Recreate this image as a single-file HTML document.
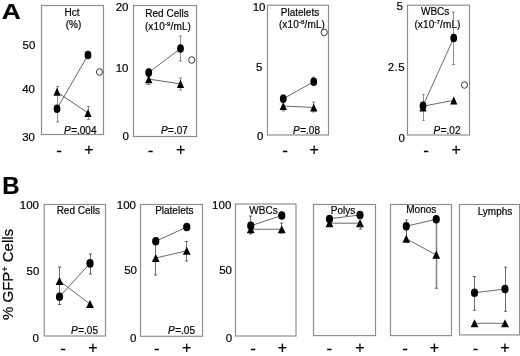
<!DOCTYPE html>
<html><head><meta charset="utf-8"><title>Figure</title>
<style>
html,body{margin:0;padding:0;background:#fff;}
body{width:520px;height:356px;overflow:hidden;}
svg{display:block;font-family:"Liberation Sans", sans-serif;fill:#000;}
text{stroke:#000;stroke-width:0.2px;}
</style></head>
<body>
<svg width="520" height="356" viewBox="0 0 520 356" font-family='"Liberation Sans", sans-serif'>
<rect x="0" y="0" width="520" height="356" fill="#fff" stroke="none"/>
<g opacity="0.999">
<text transform="translate(1.7,19) scale(1.1,0.95)" font-size="24" font-weight="bold" stroke-width="0.5">A</text>
<rect x="41.5" y="5.5" width="62.0" height="129.0" fill="none" stroke="#8c8c8c" stroke-width="1.15"/>
<text x="72.1" y="15.5" font-size="10" text-anchor="middle" font-weight="normal" font-style="normal" >Hct</text>
<text x="73.5" y="28" font-size="10" text-anchor="middle" font-weight="normal" font-style="normal" >(%)</text>
<text x="35.4" y="49.1" font-size="11.5" text-anchor="end" font-weight="normal" font-style="normal" >50</text>
<text x="35" y="92.7" font-size="11.5" text-anchor="end" font-weight="normal" font-style="normal" >40</text>
<text x="35" y="140.7" font-size="11.5" text-anchor="end" font-weight="normal" font-style="normal" >30</text>
<line x1="57.5" y1="86.5" x2="57.5" y2="122" stroke="#6a6a6a" stroke-width="0.75"/>
<line x1="55.9" y1="86.5" x2="59.1" y2="86.5" stroke="#6a6a6a" stroke-width="0.75"/>
<line x1="55.9" y1="122" x2="59.1" y2="122" stroke="#6a6a6a" stroke-width="0.75"/>
<line x1="88.5" y1="106.5" x2="88.5" y2="119.5" stroke="#6a6a6a" stroke-width="0.75"/>
<line x1="86.9" y1="106.5" x2="90.1" y2="106.5" stroke="#6a6a6a" stroke-width="0.75"/>
<line x1="86.9" y1="119.5" x2="90.1" y2="119.5" stroke="#6a6a6a" stroke-width="0.75"/>
<line x1="57" y1="108.75" x2="88" y2="55" stroke="#444" stroke-width="0.8"/>
<line x1="57" y1="92" x2="88" y2="113" stroke="#444" stroke-width="0.8"/>
<ellipse cx="57" cy="108.75" rx="3.4" ry="4.3" fill="#000"/>
<ellipse cx="88" cy="55" rx="3.4" ry="4.3" fill="#000"/>
<polygon points="57,87.60000000000001 60.6,95.8 53.4,95.8" fill="#000"/>
<polygon points="88,108.9 91.6,117.1 84.4,117.1" fill="#000"/>
<ellipse cx="99.5" cy="72" rx="3.05" ry="3.3" fill="#fff" stroke="#222" stroke-width="0.9"/>
<text x="96.5" y="134.1" font-size="10" text-anchor="end"><tspan font-style="italic">P</tspan><tspan dx="0.5">=.004</tspan></text>
<text x="59" y="156.0" font-size="17" text-anchor="middle" font-weight="normal" font-style="normal" >-</text>
<text x="89" y="155.0" font-size="16" text-anchor="middle" font-weight="normal" font-style="normal" stroke-width="0">+</text>
<rect x="133.5" y="5.5" width="63.0" height="131.0" fill="none" stroke="#8c8c8c" stroke-width="1.15"/>
<text x="128.5" y="11" font-size="11.5" text-anchor="end" font-weight="normal" font-style="normal" >20</text>
<text x="128.5" y="72" font-size="11.5" text-anchor="end" font-weight="normal" font-style="normal" >10</text>
<text x="129" y="139.5" font-size="11.5" text-anchor="end" font-weight="normal" font-style="normal" >0</text>
<text x="167" y="16.7" font-size="10" text-anchor="middle" font-weight="normal" font-style="normal" >Red Cells</text>
<text x="168" y="29.6" font-size="10" text-anchor="middle" letter-spacing="0.12">(x10<tspan font-size="6.2" dy="-4">-9</tspan><tspan dy="4">/mL)</tspan></text>
<line x1="180.5" y1="36" x2="180.5" y2="61" stroke="#6a6a6a" stroke-width="0.75"/>
<line x1="178.9" y1="36" x2="182.1" y2="36" stroke="#6a6a6a" stroke-width="0.75"/>
<line x1="178.9" y1="61" x2="182.1" y2="61" stroke="#6a6a6a" stroke-width="0.75"/>
<line x1="148.5" y1="69" x2="148.5" y2="77" stroke="#6a6a6a" stroke-width="0.75"/>
<line x1="146.9" y1="69" x2="150.1" y2="69" stroke="#6a6a6a" stroke-width="0.75"/>
<line x1="146.9" y1="77" x2="150.1" y2="77" stroke="#6a6a6a" stroke-width="0.75"/>
<line x1="148.5" y1="76" x2="148.5" y2="84.6" stroke="#6a6a6a" stroke-width="0.75"/>
<line x1="146.3" y1="76" x2="150.7" y2="76" stroke="#6a6a6a" stroke-width="0.75"/>
<line x1="146.3" y1="84.6" x2="150.7" y2="84.6" stroke="#6a6a6a" stroke-width="0.75"/>
<line x1="180.5" y1="78" x2="180.5" y2="90" stroke="#6a6a6a" stroke-width="0.75"/>
<line x1="178.9" y1="78" x2="182.1" y2="78" stroke="#6a6a6a" stroke-width="0.75"/>
<line x1="178.9" y1="90" x2="182.1" y2="90" stroke="#6a6a6a" stroke-width="0.75"/>
<line x1="148.75" y1="72.5" x2="180.5" y2="48.5" stroke="#444" stroke-width="0.8"/>
<line x1="148.75" y1="79.1" x2="180.5" y2="83.9" stroke="#444" stroke-width="0.8"/>
<ellipse cx="148.75" cy="72.5" rx="3.4" ry="4.3" fill="#000"/>
<ellipse cx="180.5" cy="48.5" rx="3.4" ry="4.3" fill="#000"/>
<polygon points="148.75,75.0 152.35,83.19999999999999 145.15,83.19999999999999" fill="#000"/>
<polygon points="180.5,79.80000000000001 184.1,88.0 176.9,88.0" fill="#000"/>
<ellipse cx="191.75" cy="60" rx="3.05" ry="3.3" fill="#fff" stroke="#222" stroke-width="0.9"/>
<text x="187.8" y="134" font-size="10" text-anchor="end"><tspan font-style="italic">P</tspan><tspan dx="0.5">=.07</tspan></text>
<text x="150.5" y="156.0" font-size="17" text-anchor="middle" font-weight="normal" font-style="normal" >-</text>
<text x="180.75" y="155.0" font-size="16" text-anchor="middle" font-weight="normal" font-style="normal" stroke-width="0">+</text>
<rect x="267.5" y="5.2" width="61.0" height="129.8" fill="none" stroke="#8c8c8c" stroke-width="1.15"/>
<text x="265.5" y="11" font-size="11.5" text-anchor="end" font-weight="normal" font-style="normal" >10</text>
<text x="262.5" y="71" font-size="11.5" text-anchor="end" font-weight="normal" font-style="normal" >5</text>
<text x="263.5" y="139.5" font-size="11.5" text-anchor="end" font-weight="normal" font-style="normal" >0</text>
<text x="300" y="15.5" font-size="10" text-anchor="middle" font-weight="normal" font-style="normal" >Platelets</text>
<text x="302" y="28" font-size="10" text-anchor="middle" letter-spacing="0.12">(x10<tspan font-size="6.2" dy="-4">-8</tspan><tspan dy="4">/mL)</tspan></text>
<line x1="283.5" y1="95" x2="283.5" y2="111" stroke="#6a6a6a" stroke-width="0.75"/>
<line x1="281.9" y1="95" x2="285.1" y2="95" stroke="#6a6a6a" stroke-width="0.75"/>
<line x1="281.9" y1="111" x2="285.1" y2="111" stroke="#6a6a6a" stroke-width="0.75"/>
<line x1="313.5" y1="77" x2="313.5" y2="85" stroke="#6a6a6a" stroke-width="0.75"/>
<line x1="311.9" y1="77" x2="315.1" y2="77" stroke="#6a6a6a" stroke-width="0.75"/>
<line x1="311.9" y1="85" x2="315.1" y2="85" stroke="#6a6a6a" stroke-width="0.75"/>
<line x1="313.5" y1="102" x2="313.5" y2="112" stroke="#6a6a6a" stroke-width="0.75"/>
<line x1="311.9" y1="102" x2="315.1" y2="102" stroke="#6a6a6a" stroke-width="0.75"/>
<line x1="311.9" y1="112" x2="315.1" y2="112" stroke="#6a6a6a" stroke-width="0.75"/>
<line x1="283.25" y1="98.75" x2="313.75" y2="81.7" stroke="#444" stroke-width="0.8"/>
<line x1="283.25" y1="106" x2="313.75" y2="107.5" stroke="#444" stroke-width="0.8"/>
<ellipse cx="283.25" cy="98.75" rx="3.4" ry="4.3" fill="#000"/>
<ellipse cx="313.75" cy="81.7" rx="3.4" ry="4.3" fill="#000"/>
<polygon points="283.25,101.9 286.85,110.1 279.65,110.1" fill="#000"/>
<polygon points="313.75,103.4 317.35,111.6 310.15,111.6" fill="#000"/>
<ellipse cx="324.25" cy="32.4" rx="3.05" ry="3.3" fill="#fff" stroke="#222" stroke-width="0.9"/>
<text x="320" y="134.3" font-size="10" text-anchor="end"><tspan font-style="italic">P</tspan><tspan dx="0.5">=.08</tspan></text>
<text x="285" y="156.0" font-size="17" text-anchor="middle" font-weight="normal" font-style="normal" >-</text>
<text x="314.25" y="155.0" font-size="16" text-anchor="middle" font-weight="normal" font-style="normal" stroke-width="0">+</text>
<rect x="407.5" y="5.2" width="62.0" height="129.8" fill="none" stroke="#8c8c8c" stroke-width="1.15"/>
<text x="402.8" y="9.7" font-size="11.5" text-anchor="end" font-weight="normal" font-style="normal" >5</text>
<text x="405" y="71.3" font-size="11.5" text-anchor="end" font-weight="normal" font-style="normal" letter-spacing="0.4">2.5</text>
<text x="405" y="142" font-size="11.5" text-anchor="end" font-weight="normal" font-style="normal" >0</text>
<text x="435.2" y="14.6" font-size="10" text-anchor="middle" font-weight="normal" font-style="normal" >WBCs</text>
<text x="437.5" y="27.6" font-size="10" text-anchor="middle" letter-spacing="0.12">(x10<tspan font-size="6.2" dy="-4">-7</tspan><tspan dy="4">/mL)</tspan></text>
<line x1="453.5" y1="12" x2="453.5" y2="64.5" stroke="#6a6a6a" stroke-width="0.75"/>
<line x1="451.9" y1="12" x2="455.1" y2="12" stroke="#6a6a6a" stroke-width="0.75"/>
<line x1="451.9" y1="64.5" x2="455.1" y2="64.5" stroke="#6a6a6a" stroke-width="0.75"/>
<line x1="423.5" y1="94.5" x2="423.5" y2="120.5" stroke="#6a6a6a" stroke-width="0.75"/>
<line x1="422.3" y1="94.5" x2="424.7" y2="94.5" stroke="#6a6a6a" stroke-width="0.75"/>
<line x1="422.3" y1="120.5" x2="424.7" y2="120.5" stroke="#6a6a6a" stroke-width="0.75"/>
<line x1="423" y1="105.75" x2="453.75" y2="38" stroke="#444" stroke-width="0.8"/>
<line x1="423" y1="106.2" x2="453.75" y2="100.3" stroke="#444" stroke-width="0.8"/>
<ellipse cx="423" cy="105.75" rx="3.4" ry="4.3" fill="#000"/>
<ellipse cx="453.75" cy="38" rx="3.4" ry="4.3" fill="#000"/>
<polygon points="423,103.4 426.6,111.6 419.4,111.6" fill="#000"/>
<polygon points="453.75,96.2 457.35,104.39999999999999 450.15,104.39999999999999" fill="#000"/>
<ellipse cx="464.5" cy="85" rx="3.05" ry="3.3" fill="#fff" stroke="#222" stroke-width="0.9"/>
<text x="460.5" y="134.3" font-size="10" text-anchor="end"><tspan font-style="italic">P</tspan><tspan dx="0.5">=.02</tspan></text>
<text x="426" y="156.0" font-size="17" text-anchor="middle" font-weight="normal" font-style="normal" >-</text>
<text x="456.2" y="155.0" font-size="16" text-anchor="middle" font-weight="normal" font-style="normal" stroke-width="0">+</text>
<text transform="translate(2.3,193.8) scale(1.0,1.0)" font-size="24" font-weight="bold" stroke-width="0.4">B</text>
<text transform="translate(13.2,320) rotate(-90)" font-size="15" stroke-width="0.1">% GFP<tspan font-size="9" dy="-5">+</tspan><tspan dy="5"> Cells</tspan></text>
<rect x="44.2" y="204.5" width="61.3" height="131.5" fill="none" stroke="#8c8c8c" stroke-width="1.15"/>
<text x="39" y="209" font-size="11.5" text-anchor="end" font-weight="normal" font-style="normal" >100</text>
<text x="39.3" y="274.7" font-size="11.5" text-anchor="end" font-weight="normal" font-style="normal" >50</text>
<text x="39" y="342" font-size="11.5" text-anchor="end" font-weight="normal" font-style="normal" >0</text>
<text x="100" y="213.5" font-size="10" text-anchor="end" font-weight="normal" font-style="normal" >Red Cells</text>
<line x1="59.5" y1="267" x2="59.5" y2="304.5" stroke="#3c3c3c" stroke-width="0.75"/>
<line x1="57.9" y1="267" x2="61.1" y2="267" stroke="#3c3c3c" stroke-width="0.75"/>
<line x1="57.9" y1="304.5" x2="61.1" y2="304.5" stroke="#3c3c3c" stroke-width="0.75"/>
<line x1="90.5" y1="254" x2="90.5" y2="274" stroke="#3c3c3c" stroke-width="0.75"/>
<line x1="88.9" y1="254" x2="92.1" y2="254" stroke="#3c3c3c" stroke-width="0.75"/>
<line x1="88.9" y1="274" x2="92.1" y2="274" stroke="#3c3c3c" stroke-width="0.75"/>
<line x1="59.5" y1="296.7" x2="90" y2="263.4" stroke="#444" stroke-width="0.8"/>
<line x1="59.5" y1="281" x2="90" y2="304" stroke="#444" stroke-width="0.8"/>
<ellipse cx="59.5" cy="296.7" rx="3.6" ry="4.3" fill="#000"/>
<ellipse cx="90" cy="263.4" rx="3.6" ry="4.3" fill="#000"/>
<polygon points="59.5,276.9 63.4,285.1 55.6,285.1" fill="#000"/>
<polygon points="90,299.9 93.9,308.1 86.1,308.1" fill="#000"/>
<text x="98" y="333.8" font-size="10" text-anchor="end"><tspan font-style="italic">P</tspan><tspan dx="0.5">=.05</tspan></text>
<text x="63" y="353.6" font-size="17" text-anchor="middle" font-weight="normal" font-style="normal" >-</text>
<text x="92.8" y="352.6" font-size="16" text-anchor="middle" font-weight="normal" font-style="normal" stroke-width="0">+</text>
<rect x="140.5" y="204.5" width="62.0" height="131.8" fill="none" stroke="#8c8c8c" stroke-width="1.15"/>
<text x="136" y="209.2" font-size="11.5" text-anchor="end" font-weight="normal" font-style="normal" >100</text>
<text x="137" y="274.2" font-size="11.5" text-anchor="end" font-weight="normal" font-style="normal" >50</text>
<text x="136.5" y="342" font-size="11.5" text-anchor="end" font-weight="normal" font-style="normal" >0</text>
<text x="193.5" y="213.5" font-size="10" text-anchor="end" font-weight="normal" font-style="normal" >Platelets</text>
<line x1="155.5" y1="241" x2="155.5" y2="275" stroke="#3c3c3c" stroke-width="0.75"/>
<line x1="153.9" y1="241" x2="157.1" y2="241" stroke="#3c3c3c" stroke-width="0.75"/>
<line x1="153.9" y1="275" x2="157.1" y2="275" stroke="#3c3c3c" stroke-width="0.75"/>
<line x1="186.5" y1="241.5" x2="186.5" y2="261" stroke="#3c3c3c" stroke-width="0.75"/>
<line x1="184.9" y1="241.5" x2="188.1" y2="241.5" stroke="#3c3c3c" stroke-width="0.75"/>
<line x1="184.9" y1="261" x2="188.1" y2="261" stroke="#3c3c3c" stroke-width="0.75"/>
<line x1="155.75" y1="241.25" x2="186.75" y2="227" stroke="#444" stroke-width="0.8"/>
<line x1="155.75" y1="258" x2="186.75" y2="250.75" stroke="#444" stroke-width="0.8"/>
<ellipse cx="155.75" cy="241.25" rx="3.6" ry="4.3" fill="#000"/>
<ellipse cx="186.75" cy="227" rx="3.6" ry="4.3" fill="#000"/>
<polygon points="155.75,253.9 159.65,262.1 151.85,262.1" fill="#000"/>
<polygon points="186.75,246.65 190.65,254.85 182.85,254.85" fill="#000"/>
<text x="195" y="333.5" font-size="10" text-anchor="end"><tspan font-style="italic">P</tspan><tspan dx="0.5">=.05</tspan></text>
<text x="156.75" y="353.6" font-size="17" text-anchor="middle" font-weight="normal" font-style="normal" >-</text>
<text x="186.75" y="352.6" font-size="16" text-anchor="middle" font-weight="normal" font-style="normal" stroke-width="0">+</text>
<rect x="235.5" y="204" width="60.5" height="132" fill="none" stroke="#8c8c8c" stroke-width="1.15"/>
<text x="231.3" y="209.2" font-size="11.5" text-anchor="end" font-weight="normal" font-style="normal" >100</text>
<text x="232" y="273.5" font-size="11.5" text-anchor="end" font-weight="normal" font-style="normal" >50</text>
<text x="232.2" y="341.7" font-size="11.5" text-anchor="end" font-weight="normal" font-style="normal" >0</text>
<text x="263.5" y="213.5" font-size="10" text-anchor="middle" font-weight="normal" font-style="normal" >WBCs</text>
<line x1="250.5" y1="216" x2="250.5" y2="234" stroke="#3c3c3c" stroke-width="0.75"/>
<line x1="248.9" y1="216" x2="252.1" y2="216" stroke="#3c3c3c" stroke-width="0.75"/>
<line x1="248.9" y1="234" x2="252.1" y2="234" stroke="#3c3c3c" stroke-width="0.75"/>
<line x1="281.5" y1="223" x2="281.5" y2="233" stroke="#3c3c3c" stroke-width="0.75"/>
<line x1="279.9" y1="223" x2="283.1" y2="223" stroke="#3c3c3c" stroke-width="0.75"/>
<line x1="279.9" y1="233" x2="283.1" y2="233" stroke="#3c3c3c" stroke-width="0.75"/>
<line x1="250.75" y1="225.75" x2="281.75" y2="215.5" stroke="#444" stroke-width="0.8"/>
<line x1="250.75" y1="229.25" x2="281.75" y2="229.25" stroke="#444" stroke-width="0.8"/>
<ellipse cx="250.75" cy="225.75" rx="3.6" ry="4.3" fill="#000"/>
<ellipse cx="281.75" cy="215.5" rx="3.6" ry="4.3" fill="#000"/>
<polygon points="250.75,225.15 254.65,233.35 246.85,233.35" fill="#000"/>
<polygon points="281.75,225.15 285.65,233.35 277.85,233.35" fill="#000"/>
<text x="253" y="353.6" font-size="17" text-anchor="middle" font-weight="normal" font-style="normal" >-</text>
<text x="282.5" y="352.6" font-size="16" text-anchor="middle" font-weight="normal" font-style="normal" stroke-width="0">+</text>
<rect x="313.5" y="204.5" width="62.0" height="131.10000000000002" fill="none" stroke="#8c8c8c" stroke-width="1.15"/>
<text x="343" y="213.5" font-size="10" text-anchor="middle" font-weight="normal" font-style="normal" >Polys</text>
<line x1="329.5" y1="218.75" x2="360" y2="215" stroke="#444" stroke-width="0.8"/>
<line x1="329.5" y1="223.2" x2="360" y2="223.2" stroke="#444" stroke-width="0.8"/>
<ellipse cx="329.5" cy="219" rx="3.6" ry="4.3" fill="#000"/>
<ellipse cx="360" cy="215" rx="3.6" ry="4.3" fill="#000"/>
<polygon points="329.5,219.1 333.4,227.29999999999998 325.6,227.29999999999998" fill="#000"/>
<polygon points="360,219.1 363.9,227.29999999999998 356.1,227.29999999999998" fill="#000"/>
<line x1="360.5" y1="226" x2="360.5" y2="229" stroke="#3c3c3c" stroke-width="0.75"/>
<line x1="358.9" y1="226" x2="362.1" y2="226" stroke="#3c3c3c" stroke-width="0.75"/>
<line x1="358.9" y1="229" x2="362.1" y2="229" stroke="#3c3c3c" stroke-width="0.75"/>
<text x="329.25" y="353.6" font-size="17" text-anchor="middle" font-weight="normal" font-style="normal" >-</text>
<text x="360" y="352.6" font-size="16" text-anchor="middle" font-weight="normal" font-style="normal" stroke-width="0">+</text>
<rect x="390.5" y="204.5" width="61.0" height="131.10000000000002" fill="none" stroke="#8c8c8c" stroke-width="1.15"/>
<text x="421.25" y="213" font-size="10" text-anchor="middle" font-weight="normal" font-style="normal" >Monos</text>
<line x1="436.5" y1="219" x2="436.5" y2="288.25" stroke="#888" stroke-width="1.6"/>
<line x1="434.9" y1="219" x2="438.1" y2="219" stroke="#888" stroke-width="1.6"/>
<line x1="434.9" y1="288.25" x2="438.1" y2="288.25" stroke="#888" stroke-width="1.6"/>
<line x1="406.5" y1="220" x2="406.5" y2="242" stroke="#3c3c3c" stroke-width="0.75"/>
<line x1="404.9" y1="220" x2="408.1" y2="220" stroke="#3c3c3c" stroke-width="0.75"/>
<line x1="404.9" y1="242" x2="408.1" y2="242" stroke="#3c3c3c" stroke-width="0.75"/>
<line x1="406.25" y1="226.2" x2="436.25" y2="219.25" stroke="#444" stroke-width="0.8"/>
<line x1="406.25" y1="238.75" x2="436.25" y2="255" stroke="#444" stroke-width="0.8"/>
<ellipse cx="406.25" cy="226.2" rx="3.6" ry="4.3" fill="#000"/>
<ellipse cx="436.25" cy="219.25" rx="3.6" ry="4.3" fill="#000"/>
<polygon points="406.25,234.65 410.15,242.85 402.35,242.85" fill="#000"/>
<polygon points="436.25,250.6 440.15,258.8 432.35,258.8" fill="#000"/>
<text x="405" y="353.6" font-size="17" text-anchor="middle" font-weight="normal" font-style="normal" >-</text>
<text x="434.5" y="352.6" font-size="16" text-anchor="middle" font-weight="normal" font-style="normal" stroke-width="0">+</text>
<rect x="459.5" y="204.5" width="60.10000000000002" height="130.39999999999998" fill="none" stroke="#8c8c8c" stroke-width="1.15"/>
<text x="495" y="215.2" font-size="10" text-anchor="middle" font-weight="normal" font-style="normal" >Lymphs</text>
<line x1="474.5" y1="276.5" x2="474.5" y2="310.25" stroke="#3c3c3c" stroke-width="0.75"/>
<line x1="472.9" y1="276.5" x2="476.1" y2="276.5" stroke="#3c3c3c" stroke-width="0.75"/>
<line x1="472.9" y1="310.25" x2="476.1" y2="310.25" stroke="#3c3c3c" stroke-width="0.75"/>
<line x1="505.5" y1="267.2" x2="505.5" y2="311.25" stroke="#3c3c3c" stroke-width="0.75"/>
<line x1="503.9" y1="267.2" x2="507.1" y2="267.2" stroke="#3c3c3c" stroke-width="0.75"/>
<line x1="503.9" y1="311.25" x2="507.1" y2="311.25" stroke="#3c3c3c" stroke-width="0.75"/>
<line x1="474.5" y1="292.75" x2="505" y2="289" stroke="#444" stroke-width="0.8"/>
<line x1="474.5" y1="323.25" x2="505" y2="323.25" stroke="#444" stroke-width="0.8"/>
<ellipse cx="474.5" cy="292.75" rx="3.6" ry="4.3" fill="#000"/>
<ellipse cx="505" cy="289" rx="3.6" ry="4.3" fill="#000"/>
<polygon points="474.5,319.15 478.4,327.35 470.6,327.35" fill="#000"/>
<polygon points="505,319.15 508.9,327.35 501.1,327.35" fill="#000"/>
<text x="475.5" y="353.6" font-size="17" text-anchor="middle" font-weight="normal" font-style="normal" >-</text>
<text x="505" y="352.6" font-size="16" text-anchor="middle" font-weight="normal" font-style="normal" stroke-width="0">+</text>
</g>
</svg>
</body></html>
